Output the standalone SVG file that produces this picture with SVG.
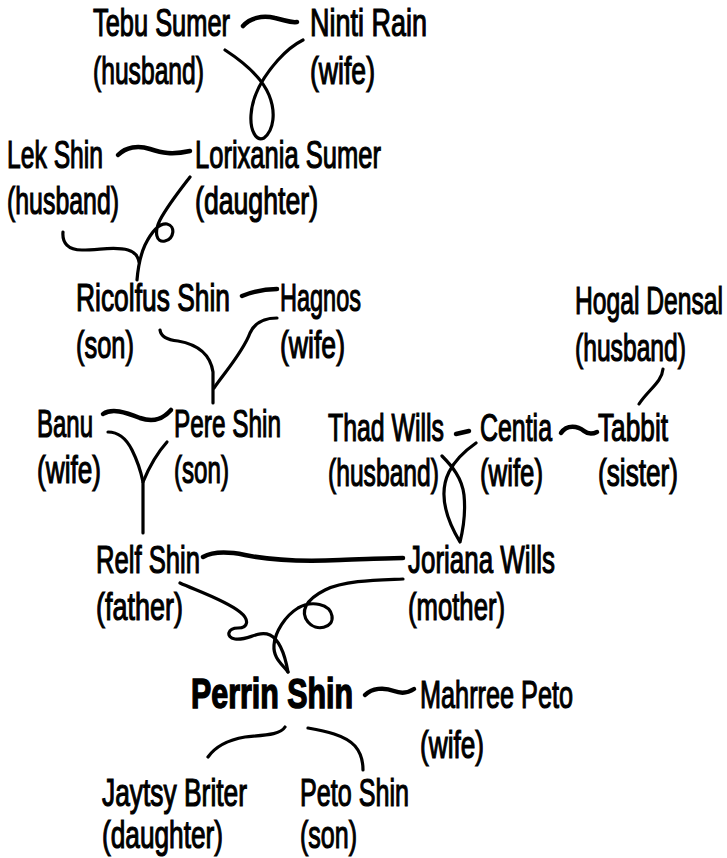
<svg xmlns="http://www.w3.org/2000/svg" width="727" height="858" viewBox="0 0 727 858">
<style>
text{font-family:"Liberation Sans",Arial,sans-serif;font-size:39px;fill:#000;stroke:#000;stroke-width:1.2px}
.main{font-weight:bold;font-size:42px;stroke-width:1.5px}
.c path{fill:none;stroke:#000;stroke-width:4.5;stroke-linecap:round;stroke-linejoin:round}
.c .t{stroke-width:3.2}
</style>
<rect width="727" height="858" fill="#fff"/>
<g class="c" id="connectors">
<path d="M243,26 C250,18 262,15 275,18 C285,20 290,23 297,22"/>
<path class="t" d="M225,50 C245,63 262,78 269,95 C276,112 274,130 264,138 C256,142 250,130 251,115 C252,98 262,78 278,60 C287,50 295,44 303,40"/>
<path d="M118,155 C126,147 138,145 150,149 C162,153 172,155 190,151"/>
<path class="t" d="M190,177 C180,190 168,205 160,220 C154,232 156,243 165,241 C174,239 176,226 167,224 C158,223 150,235 145,245 C140,256 138,268 137,280"/>
<path class="t" d="M63,232 C62,243 68,250 82,250 C100,250 115,246 128,250 C135,252 138,256 139,262"/>
<path d="M242,296 C252,292 265,289 277,289"/>
<path class="t" d="M160,330 C161,337 168,340 178,341 C195,344 210,352 213,372 L213,403"/>
<path class="t" d="M277,318 C265,318 255,322 250,333 C243,352 225,372 214,388"/>
<path d="M103,414 C112,408 125,412 140,418 C155,423 164,418 171,410"/>
<path class="t" d="M108,432 C118,432 126,438 132,450 C138,462 141,472 143,482 L143,533"/>
<path class="t" d="M167,442 C158,452 150,465 143,482"/>
<path d="M456,434 L469,431"/>
<path d="M561,433 C567,424 578,426 584,431 C589,435 593,434 597,432"/>
<path class="t" d="M663,369 C662,382 648,390 639,404"/>
<path class="t" d="M476,443 C466,450 455,460 449,472 C440,490 442,512 460,542 C463,530 466,515 464,495 C462,478 452,466 442,456"/>
<path d="M203,557 C212,552 225,551 245,555 C270,560 300,562 340,560 C370,559 390,558 403,558"/>
<path class="t" d="M180,583 C195,590 225,600 240,612 C250,620 248,628 238,628 C228,628 225,637 235,639 C248,641 258,630 270,635 C280,640 285,655 288,672"/>
<path class="t" d="M403,579 C380,580 345,580 325,590 C305,600 300,612 308,622 C316,632 334,628 332,616 C330,604 312,600 298,608 C285,616 275,632 274,645 C273,658 282,664 288,672"/>
<path d="M365,695 C372,688 384,687 394,691 C402,694 408,693 414,689"/>
<path class="t" d="M285,727 C280,735 265,735 245,737 C228,740 215,747 208,757"/>
<path class="t" d="M308,728 C325,731 345,735 355,746 C361,753 363,762 363,770"/>
</g>
<g id="tebu"><text transform="translate(93,36) scale(0.64,1)" textLength="214.1" lengthAdjust="spacingAndGlyphs">Tebu Sumer</text><text transform="translate(93,84) scale(0.64,1)" textLength="173.4" lengthAdjust="spacingAndGlyphs">(husband)</text></g>
<g id="ninti"><text transform="translate(310,36) scale(0.64,1)" textLength="182.8" lengthAdjust="spacingAndGlyphs">Ninti Rain</text><text transform="translate(310,84) scale(0.64,1)" textLength="101.6" lengthAdjust="spacingAndGlyphs">(wife)</text></g>
<g id="lek"><text transform="translate(7,168) scale(0.64,1)" textLength="150" lengthAdjust="spacingAndGlyphs">Lek Shin</text><text transform="translate(7,214) scale(0.64,1)" textLength="175" lengthAdjust="spacingAndGlyphs">(husband)</text></g>
<g id="lorixania"><text transform="translate(195,168) scale(0.64,1)" textLength="290.6" lengthAdjust="spacingAndGlyphs">Lorixania Sumer</text><text transform="translate(195,214) scale(0.64,1)" textLength="192.2" lengthAdjust="spacingAndGlyphs">(daughter)</text></g>
<g id="ricolfus"><text transform="translate(76,311) scale(0.64,1)" textLength="240.6" lengthAdjust="spacingAndGlyphs">Ricolfus Shin</text><text transform="translate(76,358) scale(0.64,1)" textLength="90.6" lengthAdjust="spacingAndGlyphs">(son)</text></g>
<g id="hagnos"><text transform="translate(280,311) scale(0.64,1)" textLength="126.6" lengthAdjust="spacingAndGlyphs">Hagnos</text><text transform="translate(280,358) scale(0.64,1)" textLength="101.6" lengthAdjust="spacingAndGlyphs">(wife)</text></g>
<g id="hogal"><text transform="translate(575,314) scale(0.64,1)" textLength="231.3" lengthAdjust="spacingAndGlyphs">Hogal Densal</text><text transform="translate(575,361) scale(0.64,1)" textLength="173.4" lengthAdjust="spacingAndGlyphs">(husband)</text></g>
<g id="banu"><text transform="translate(37,437) scale(0.64,1)" textLength="87.5" lengthAdjust="spacingAndGlyphs">Banu</text><text transform="translate(37,483) scale(0.64,1)" textLength="100" lengthAdjust="spacingAndGlyphs">(wife)</text></g>
<g id="pere"><text transform="translate(174,437) scale(0.64,1)" textLength="167.2" lengthAdjust="spacingAndGlyphs">Pere Shin</text><text transform="translate(174,483) scale(0.64,1)" textLength="85.9" lengthAdjust="spacingAndGlyphs">(son)</text></g>
<g id="thad"><text transform="translate(328,441) scale(0.64,1)" textLength="181.3" lengthAdjust="spacingAndGlyphs">Thad Wills</text><text transform="translate(328,486) scale(0.64,1)" textLength="173.4" lengthAdjust="spacingAndGlyphs">(husband)</text></g>
<g id="centia"><text transform="translate(480,441) scale(0.64,1)" textLength="112.5" lengthAdjust="spacingAndGlyphs">Centia</text><text transform="translate(480,486) scale(0.64,1)" textLength="98.4" lengthAdjust="spacingAndGlyphs">(wife)</text></g>
<g id="tabbit"><text transform="translate(598,441) scale(0.64,1)" textLength="109.4" lengthAdjust="spacingAndGlyphs">Tabbit</text><text transform="translate(598,486) scale(0.64,1)" textLength="125" lengthAdjust="spacingAndGlyphs">(sister)</text></g>
<g id="relf"><text transform="translate(96,573) scale(0.64,1)" textLength="162.5" lengthAdjust="spacingAndGlyphs">Relf Shin</text><text transform="translate(96,620) scale(0.64,1)" textLength="135.9" lengthAdjust="spacingAndGlyphs">(father)</text></g>
<g id="joriana"><text transform="translate(408,573) scale(0.64,1)" textLength="229.7" lengthAdjust="spacingAndGlyphs">Joriana Wills</text><text transform="translate(408,620) scale(0.64,1)" textLength="151.6" lengthAdjust="spacingAndGlyphs">(mother)</text></g>
<g id="perrin"><text class="main" transform="translate(191,708) scale(0.72,1)" textLength="225" lengthAdjust="spacingAndGlyphs">Perrin Shin</text></g>
<g id="mahrree"><text transform="translate(420,708) scale(0.64,1)" textLength="239.1" lengthAdjust="spacingAndGlyphs">Mahrree Peto</text><text transform="translate(420,758) scale(0.64,1)" textLength="100" lengthAdjust="spacingAndGlyphs">(wife)</text></g>
<g id="jaytsy"><text transform="translate(102,806) scale(0.64,1)" textLength="226.6" lengthAdjust="spacingAndGlyphs">Jaytsy Briter</text><text transform="translate(102,848) scale(0.64,1)" textLength="189.1" lengthAdjust="spacingAndGlyphs">(daughter)</text></g>
<g id="peto"><text transform="translate(300,806) scale(0.64,1)" textLength="170.3" lengthAdjust="spacingAndGlyphs">Peto Shin</text><text transform="translate(300,848) scale(0.64,1)" textLength="89.1" lengthAdjust="spacingAndGlyphs">(son)</text></g>
</svg>
